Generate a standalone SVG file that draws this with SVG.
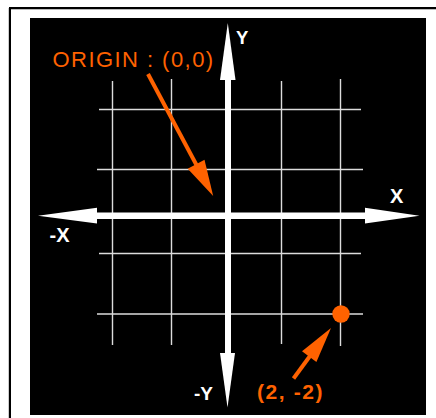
<svg xmlns="http://www.w3.org/2000/svg" width="436" height="418" viewBox="0 0 436 418">
<style>
.grid{stroke:#dcdcdc;stroke-width:1.4;fill:none}
.axis{fill:#ffffff}
.wl{font-family:"Liberation Sans",Arial,sans-serif;font-weight:bold;fill:#ffffff}
.ol{font-family:"Liberation Sans",Arial,sans-serif;fill:#ff6200}
.oa{stroke:#ff6200;stroke-width:4;fill:none}
.oh{fill:#ff6200}
</style>
<rect x="0" y="0" width="436" height="418" fill="#ffffff"/>
<g id="frame">
<line x1="9" y1="8" x2="436" y2="8" stroke="#000" stroke-width="2"/>
<line x1="9.5" y1="9.5" x2="436" y2="9.5" stroke="#bbbbbb" stroke-width="1"/>
<line x1="10" y1="8" x2="10" y2="418" stroke="#000" stroke-width="2"/>
<line x1="8.5" y1="8" x2="8.5" y2="418" stroke="#cccccc" stroke-width="1"/>
<rect x="30" y="18" width="396" height="397" fill="#000"/>
</g>
<g id="grid">
<line class="grid" x1="112.5" y1="81" x2="112.5" y2="345"/>
<line class="grid" x1="171.5" y1="79" x2="171.5" y2="345"/>
<line class="grid" x1="281.5" y1="81" x2="281.5" y2="344"/>
<line class="grid" x1="340.5" y1="79" x2="340.5" y2="346"/>
<line class="grid" x1="99" y1="109.5" x2="361" y2="109.5"/>
<line class="grid" x1="97" y1="169.5" x2="363" y2="169.5"/>
<line class="grid" x1="99" y1="253.5" x2="361" y2="253.5"/>
<line class="grid" x1="97" y1="314" x2="363" y2="314"/>
</g>
<g id="axes">
<rect class="axis" x="97" y="212.5" width="268" height="6.5"/>
<polygon class="axis" points="38,215.7 97,207.7 97,223.5"/>
<polygon class="axis" points="419.5,215.7 365,207.7 365,223.5"/>
<rect class="axis" x="225" y="80" width="6" height="274"/>
<polygon class="axis" points="227.8,23 220,80 235.5,80"/>
<polygon class="axis" points="227.5,407.5 220,353 235,353"/>
</g>
<g id="labels">
<text class="wl" x="236" y="43.5" font-size="18.5">Y</text>
<text class="wl" x="390" y="202.7" font-size="20">X</text>
<text class="wl" x="49.5" y="241.7" font-size="20">-X</text>
<text class="wl" x="194" y="400" font-size="19">-Y</text>
</g>
<g id="origin-annotation">
<text class="ol" x="52.5" y="66.7" font-size="22" letter-spacing="1.45">ORIGIN : (0,0)</text>
<line class="oa" x1="148" y1="74" x2="197" y2="166"/>
<polygon class="oh" points="213.2,196 204.5,159.7 187.7,168.7"/>
</g>
<g id="point-annotation">
<circle cx="341" cy="314" r="8.7" fill="#ff6200"/>
<line class="oa" x1="293.5" y1="378.5" x2="310" y2="356"/>
<polygon class="oh" points="331,328 316.4,362.1 302,351.3"/>
<text class="ol" x="257" y="398.5" font-size="21" font-weight="bold" letter-spacing="1.6">(2, -2)</text>
</g>
</svg>
